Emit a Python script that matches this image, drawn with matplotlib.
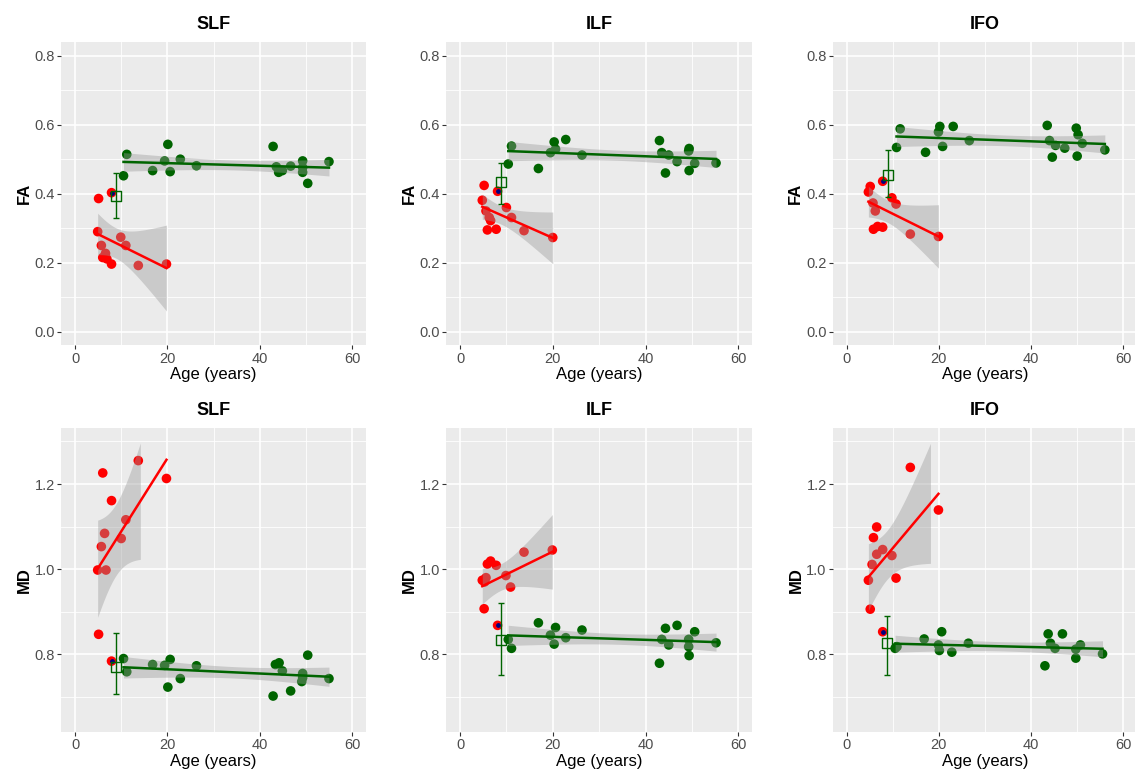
import numpy as np
import matplotlib.pyplot as plt
from matplotlib.ticker import FormatStrFormatter

plt.rcParams['font.family'] = ['Liberation Sans', 'DejaVu Sans']

# ---- FA, SLF
slf_fa_kid_age = [5.1, 7.9, 4.9, 9.9, 11.0, 5.7, 6.6, 6.0, 6.9, 7.9, 13.7, 19.8]
slf_fa_kid = [0.386, 0.403, 0.290, 0.274, 0.250, 0.250, 0.227, 0.215, 0.211, 0.196, 0.192, 0.196]
slf_fa_adult_age = [20.1, 42.9, 11.2, 19.4, 22.8, 16.8, 20.6, 10.5, 26.3, 43.6, 44.1, 44.9,
                    46.7, 49.3, 49.3, 49.3, 50.4, 55.0]
slf_fa_adult = [0.543, 0.537, 0.514, 0.495, 0.500, 0.467, 0.464, 0.452, 0.481, 0.478, 0.462, 0.467,
                0.480, 0.495, 0.476, 0.462, 0.430, 0.493]
slf_fa_mean = (8.9, 0.393, 0.330, 0.459)

# ---- FA, ILF
ilf_fa_kid_age = [5.2, 8.1, 4.8, 10.0, 5.6, 6.3, 6.6, 11.1, 5.9, 7.8, 13.8, 20.0]
ilf_fa_kid = [0.424, 0.407, 0.381, 0.360, 0.350, 0.331, 0.322, 0.331, 0.295, 0.297, 0.293, 0.273]
ilf_fa_adult_age = [22.8, 20.3, 43.0, 11.1, 20.6, 19.5, 26.3, 43.5, 45.0, 49.4, 49.3, 46.8,
                    50.6, 55.2, 10.4, 16.9, 44.3, 49.4]
ilf_fa_adult = [0.557, 0.550, 0.554, 0.538, 0.529, 0.519, 0.512, 0.519, 0.512, 0.531, 0.524, 0.493,
                0.488, 0.489, 0.486, 0.473, 0.460, 0.467]
ilf_fa_mean = (8.9, 0.435, 0.371, 0.490)

# ---- FA, IFO
ifo_fa_kid_age = [5.1, 4.7, 7.8, 9.8, 10.7, 5.7, 6.2, 5.8, 6.7, 7.8, 13.8, 19.9]
ifo_fa_kid = [0.421, 0.405, 0.436, 0.388, 0.370, 0.373, 0.350, 0.297, 0.305, 0.303, 0.283, 0.276]
ifo_fa_adult_age = [11.6, 10.8, 20.2, 19.9, 23.1, 17.1, 20.8, 26.6, 43.5, 44.0, 45.3, 47.3,
                    44.6, 49.8, 50.2, 50.0, 51.1, 56.0]
ifo_fa_adult = [0.588, 0.534, 0.595, 0.579, 0.595, 0.520, 0.537, 0.554, 0.598, 0.554, 0.540, 0.532,
                0.506, 0.590, 0.571, 0.509, 0.546, 0.527]
ifo_fa_mean = (8.9, 0.454, 0.390, 0.526)

# ---- MD, SLF
slf_md_kid_age = [13.7, 6.0, 19.8, 7.9, 11.0, 6.4, 10.0, 5.7, 4.9, 6.7, 5.1, 7.9]
slf_md_kid = [1.255, 1.226, 1.213, 1.161, 1.116, 1.084, 1.072, 1.053, 0.998, 0.998, 0.847, 0.784]
slf_md_adult_age = [10.5, 11.2, 16.8, 19.4, 20.6, 20.1, 22.8, 26.3, 42.9, 43.4, 44.2, 44.9,
                    46.7, 49.3, 49.3, 49.1, 50.4, 55.0]
slf_md_adult = [0.790, 0.759, 0.776, 0.774, 0.788, 0.723, 0.743, 0.773, 0.702, 0.776, 0.780, 0.761,
                0.714, 0.755, 0.745, 0.736, 0.798, 0.743]
slf_md_mean = (8.9, 0.770, 0.706, 0.849)

# ---- MD, ILF
ilf_md_kid_age = [19.9, 13.8, 5.9, 6.6, 7.8, 4.8, 5.6, 9.9, 10.9, 5.2, 8.1, 5.3]
ilf_md_kid = [1.045, 1.040, 1.012, 1.019, 1.009, 0.974, 0.980, 0.985, 0.958, 0.907, 0.868, 0.970]
ilf_md_adult_age = [16.9, 20.6, 19.5, 20.3, 22.8, 26.3, 10.4, 11.1, 44.3, 46.8, 43.5, 45.0,
                    43.0, 50.6, 49.3, 49.3, 49.4, 55.2]
ilf_md_adult = [0.874, 0.863, 0.845, 0.824, 0.839, 0.857, 0.835, 0.814, 0.861, 0.868, 0.835, 0.822,
                0.779, 0.853, 0.835, 0.818, 0.797, 0.827]
ilf_md_mean = (8.9, 0.833, 0.752, 0.921)

# ---- MD, IFO
ifo_md_kid_age = [13.8, 19.9, 6.5, 5.8, 7.8, 6.5, 9.8, 5.5, 4.7, 10.7, 5.1, 7.8]
ifo_md_kid = [1.239, 1.139, 1.099, 1.074, 1.046, 1.035, 1.032, 1.011, 0.974, 0.979, 0.906, 0.853]
ifo_md_adult_age = [20.6, 16.8, 10.5, 10.9, 19.9, 20.1, 22.8, 26.4, 43.7, 46.8, 44.2, 45.2,
                    43.0, 49.7, 49.7, 50.7, 55.5]
ifo_md_adult = [0.853, 0.836, 0.814, 0.818, 0.822, 0.809, 0.805, 0.826, 0.848, 0.848, 0.826, 0.814,
                0.773, 0.791, 0.812, 0.822, 0.801]
ifo_md_mean = (8.7, 0.827, 0.752, 0.891)

# index of the kid with the small navy dot
marked = {'slf_fa': 1, 'ilf_fa': 1, 'ifo_fa': 2, 'slf_md': 11, 'ilf_md': 10, 'ifo_md': 11}

T975 = {8: 2.306, 9: 2.262, 10: 2.228, 11: 2.201, 14: 2.145, 15: 2.131, 16: 2.120, 17: 2.110}

RED = '#FF0000'
GREEN = '#006400'


def lm_band(x, y):
    x = np.asarray(x)
    y = np.asarray(y)
    n = len(x)
    b, a = np.polyfit(x, y, 1)
    xs = np.linspace(x.min(), x.max(), 80)
    fit = a + b * xs
    s = np.sqrt(np.sum((y - (a + b * x)) ** 2) / (n - 2))
    se = s * np.sqrt(1 / n + (xs - x.mean()) ** 2 / np.sum((x - x.mean()) ** 2))
    t = T975[n - 2]
    return xs, fit, fit - t * se, fit + t * se


def panel(ax, kx, ky, ax_, ay, mean, mk, title, ylab, lim):
    lo_lim, hi_lim = lim
    ax.scatter(kx, ky, s=48, color=RED, edgecolors='none', zorder=2)
    ax.scatter(ax_, ay, s=48, color=GREEN, edgecolors='none', zorder=2)
    ax.scatter([kx[mk]], [ky[mk]], s=6, color='#000080', zorder=2.5)
    for xx, yy, col in [(kx, ky, RED), (ax_, ay, GREEN)]:
        xs, fit, lo, hi = lm_band(xx, yy)
        bad = (lo < lo_lim) | (hi > hi_lim)
        lo = np.where(bad, np.nan, lo)
        hi = np.where(bad, np.nan, hi)
        ax.fill_between(xs, lo, hi, color='#999999', alpha=0.4, linewidth=0, zorder=3)
        ax.plot(xs, fit, color=col, lw=1.8, zorder=4)
    mx, my, mlo, mhi = mean
    ax.errorbar([mx], [my], yerr=[[my - mlo], [mhi - my]], fmt='none', ecolor=GREEN,
                elinewidth=1, capsize=2.5, zorder=5)
    ax.scatter([mx], [my], s=50, marker='s', facecolors='none', edgecolors=GREEN,
               linewidths=1, zorder=5)
    ax.set_title(title, fontsize=13, fontweight='bold', pad=9)
    ax.set_xlabel('Age (years)', fontsize=12, labelpad=1)
    ax.set_ylabel(ylab, fontsize=12, fontweight='bold', labelpad=2)


def style(ax, yt, ymin, lim):
    ax.set_facecolor('#EBEBEB')
    for sp in ax.spines.values():
        sp.set_visible(False)
    ax.set_xlim(-3, 63)
    rng = lim[1] - lim[0]
    ax.set_ylim(lim[0] - 0.05 * rng, lim[1] + 0.05 * rng)
    ax.set_xticks([0, 20, 40, 60])
    ax.set_xticks([10, 30, 50], minor=True)
    ax.set_yticks(yt)
    ax.set_yticks(ymin, minor=True)
    ax.yaxis.set_major_formatter(FormatStrFormatter('%.1f'))
    ax.grid(which='major', color='white', lw=1.2)
    ax.grid(which='minor', color='white', lw=0.6)
    ax.set_axisbelow(True)
    ax.tick_params(which='major', length=3, width=0.8, color='#333333',
                   labelcolor='#4D4D4D', labelsize=10.5, pad=1.5)
    ax.tick_params(which='minor', length=0)


W, H = 1135, 773
fig = plt.figure(figsize=(W / 100, H / 100), dpi=100)

cols = [(61.2, 365.9), (446.1, 752.2), (832.9, 1137.1)]
rows = [(41.9, 345.5), (427.6, 732.0)]

fa_lim = (0.0, 0.8)
md_lim = (0.65, 1.3)

fa_sets = [
    (slf_fa_kid_age, slf_fa_kid, slf_fa_adult_age, slf_fa_adult, slf_fa_mean, marked['slf_fa'], 'SLF'),
    (ilf_fa_kid_age, ilf_fa_kid, ilf_fa_adult_age, ilf_fa_adult, ilf_fa_mean, marked['ilf_fa'], 'ILF'),
    (ifo_fa_kid_age, ifo_fa_kid, ifo_fa_adult_age, ifo_fa_adult, ifo_fa_mean, marked['ifo_fa'], 'IFO'),
]
md_sets = [
    (slf_md_kid_age, slf_md_kid, slf_md_adult_age, slf_md_adult, slf_md_mean, marked['slf_md'], 'SLF'),
    (ilf_md_kid_age, ilf_md_kid, ilf_md_adult_age, ilf_md_adult, ilf_md_mean, marked['ilf_md'], 'ILF'),
    (ifo_md_kid_age, ifo_md_kid, ifo_md_adult_age, ifo_md_adult, ifo_md_mean, marked['ifo_md'], 'IFO'),
]

for r, (sets, ylab, lim, yt, ymin) in enumerate([
        (fa_sets, 'FA', fa_lim, [0, 0.2, 0.4, 0.6, 0.8], [0.1, 0.3, 0.5, 0.7]),
        (md_sets, 'MD', md_lim, [0.8, 1.0, 1.2], [0.7, 0.9, 1.1, 1.3])]):
    for c, s in enumerate(sets):
        x0, x1 = cols[c]
        y0, y1 = rows[r]
        ax = fig.add_axes([x0 / W, 1 - y1 / H, (x1 - x0) / W, (y1 - y0) / H])
        style(ax, yt, ymin, lim)
        panel(ax, *s[:6], s[6], ylab, lim)

fig.savefig('out.png', dpi=100)
